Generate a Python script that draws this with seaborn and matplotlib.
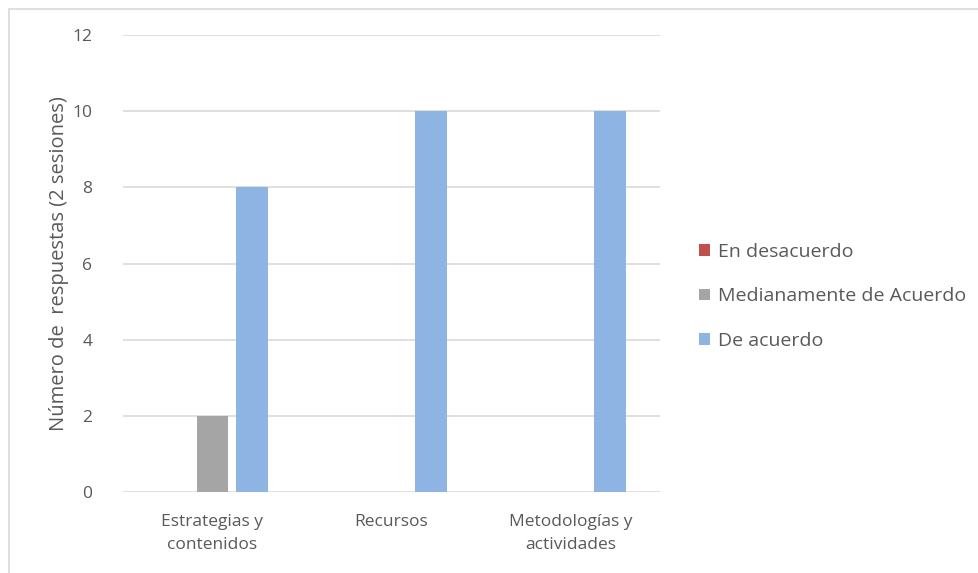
import pandas as pd
import seaborn as sns
import matplotlib.pyplot as plt
from matplotlib.lines import Line2D

categories = ["Estrategias y\ncontenidos", "Recursos", "Metodologías y\nactividades"]
series = ["En desacuerdo", "Medianamente de Acuerdo", "De acuerdo"]
en_desacuerdo = [0, 0, 0]
medianamente = [2, 0, 0]
de_acuerdo = [8, 10, 10]
colors = ["#C0504D", "#A5A5A5", "#8EB4E3"]

rows = []
for name, vals in zip(series, [en_desacuerdo, medianamente, de_acuerdo]):
    for cat, v in zip(categories, vals):
        rows.append({"cat": cat, "serie": name, "valor": v})
df = pd.DataFrame(rows)

sns.set_style("white")
plt.rcParams['font.family'] = ['Open Sans', 'DejaVu Sans']

fig = plt.figure(figsize=(9.79, 5.73), dpi=100)
ax = fig.add_axes([123 / 979, 1 - 492 / 573, (660 - 123) / 979, (492 - 35) / 573])

sns.barplot(data=df, x="cat", y="valor", hue="serie", hue_order=series,
            palette=colors, saturation=1, width=0.67, gap=0.2, linewidth=0,
            ax=ax, legend=True)

ax.set_ylim(0, 12)
ax.set_yticks(range(0, 13, 2))
ax.yaxis.grid(True, color="#D9D9D9", linewidth=1.2)
ax.set_axisbelow(True)
for s in ax.spines.values():
    s.set_visible(False)
ax.tick_params(axis="y", length=0, pad=22, labelsize=12.5, labelcolor="#595959")
ax.tick_params(axis="x", length=0, pad=16, labelsize=12.5, labelcolor="#595959")
for t in ax.get_xticklabels():
    t.set_linespacing(1.55)
ax.set_xlabel("")
ax.set_ylabel("Número de  respuestas (2 sesiones)", fontsize=14.5, color="#595959")
ax.yaxis.set_label_coords(-0.1, 0.5)

leg = ax.legend(loc="center left", bbox_to_anchor=(1.04, 0.428), frameon=False,
                fontsize=14, handlelength=0.55, handleheight=0.55, handletextpad=0.45,
                labelspacing=1.35)
for t in leg.get_texts():
    t.set_color("#595959")

# marco del gráfico
fig.add_artist(Line2D([9 / 979, 9 / 979], [0, 1 - 9 / 573], transform=fig.transFigure, color="#D9D9D9", lw=1.2))
fig.add_artist(Line2D([9 / 979, 1], [1 - 9 / 573, 1 - 9 / 573], transform=fig.transFigure, color="#D9D9D9", lw=1.2))

fig.savefig("out.png", dpi=100)
